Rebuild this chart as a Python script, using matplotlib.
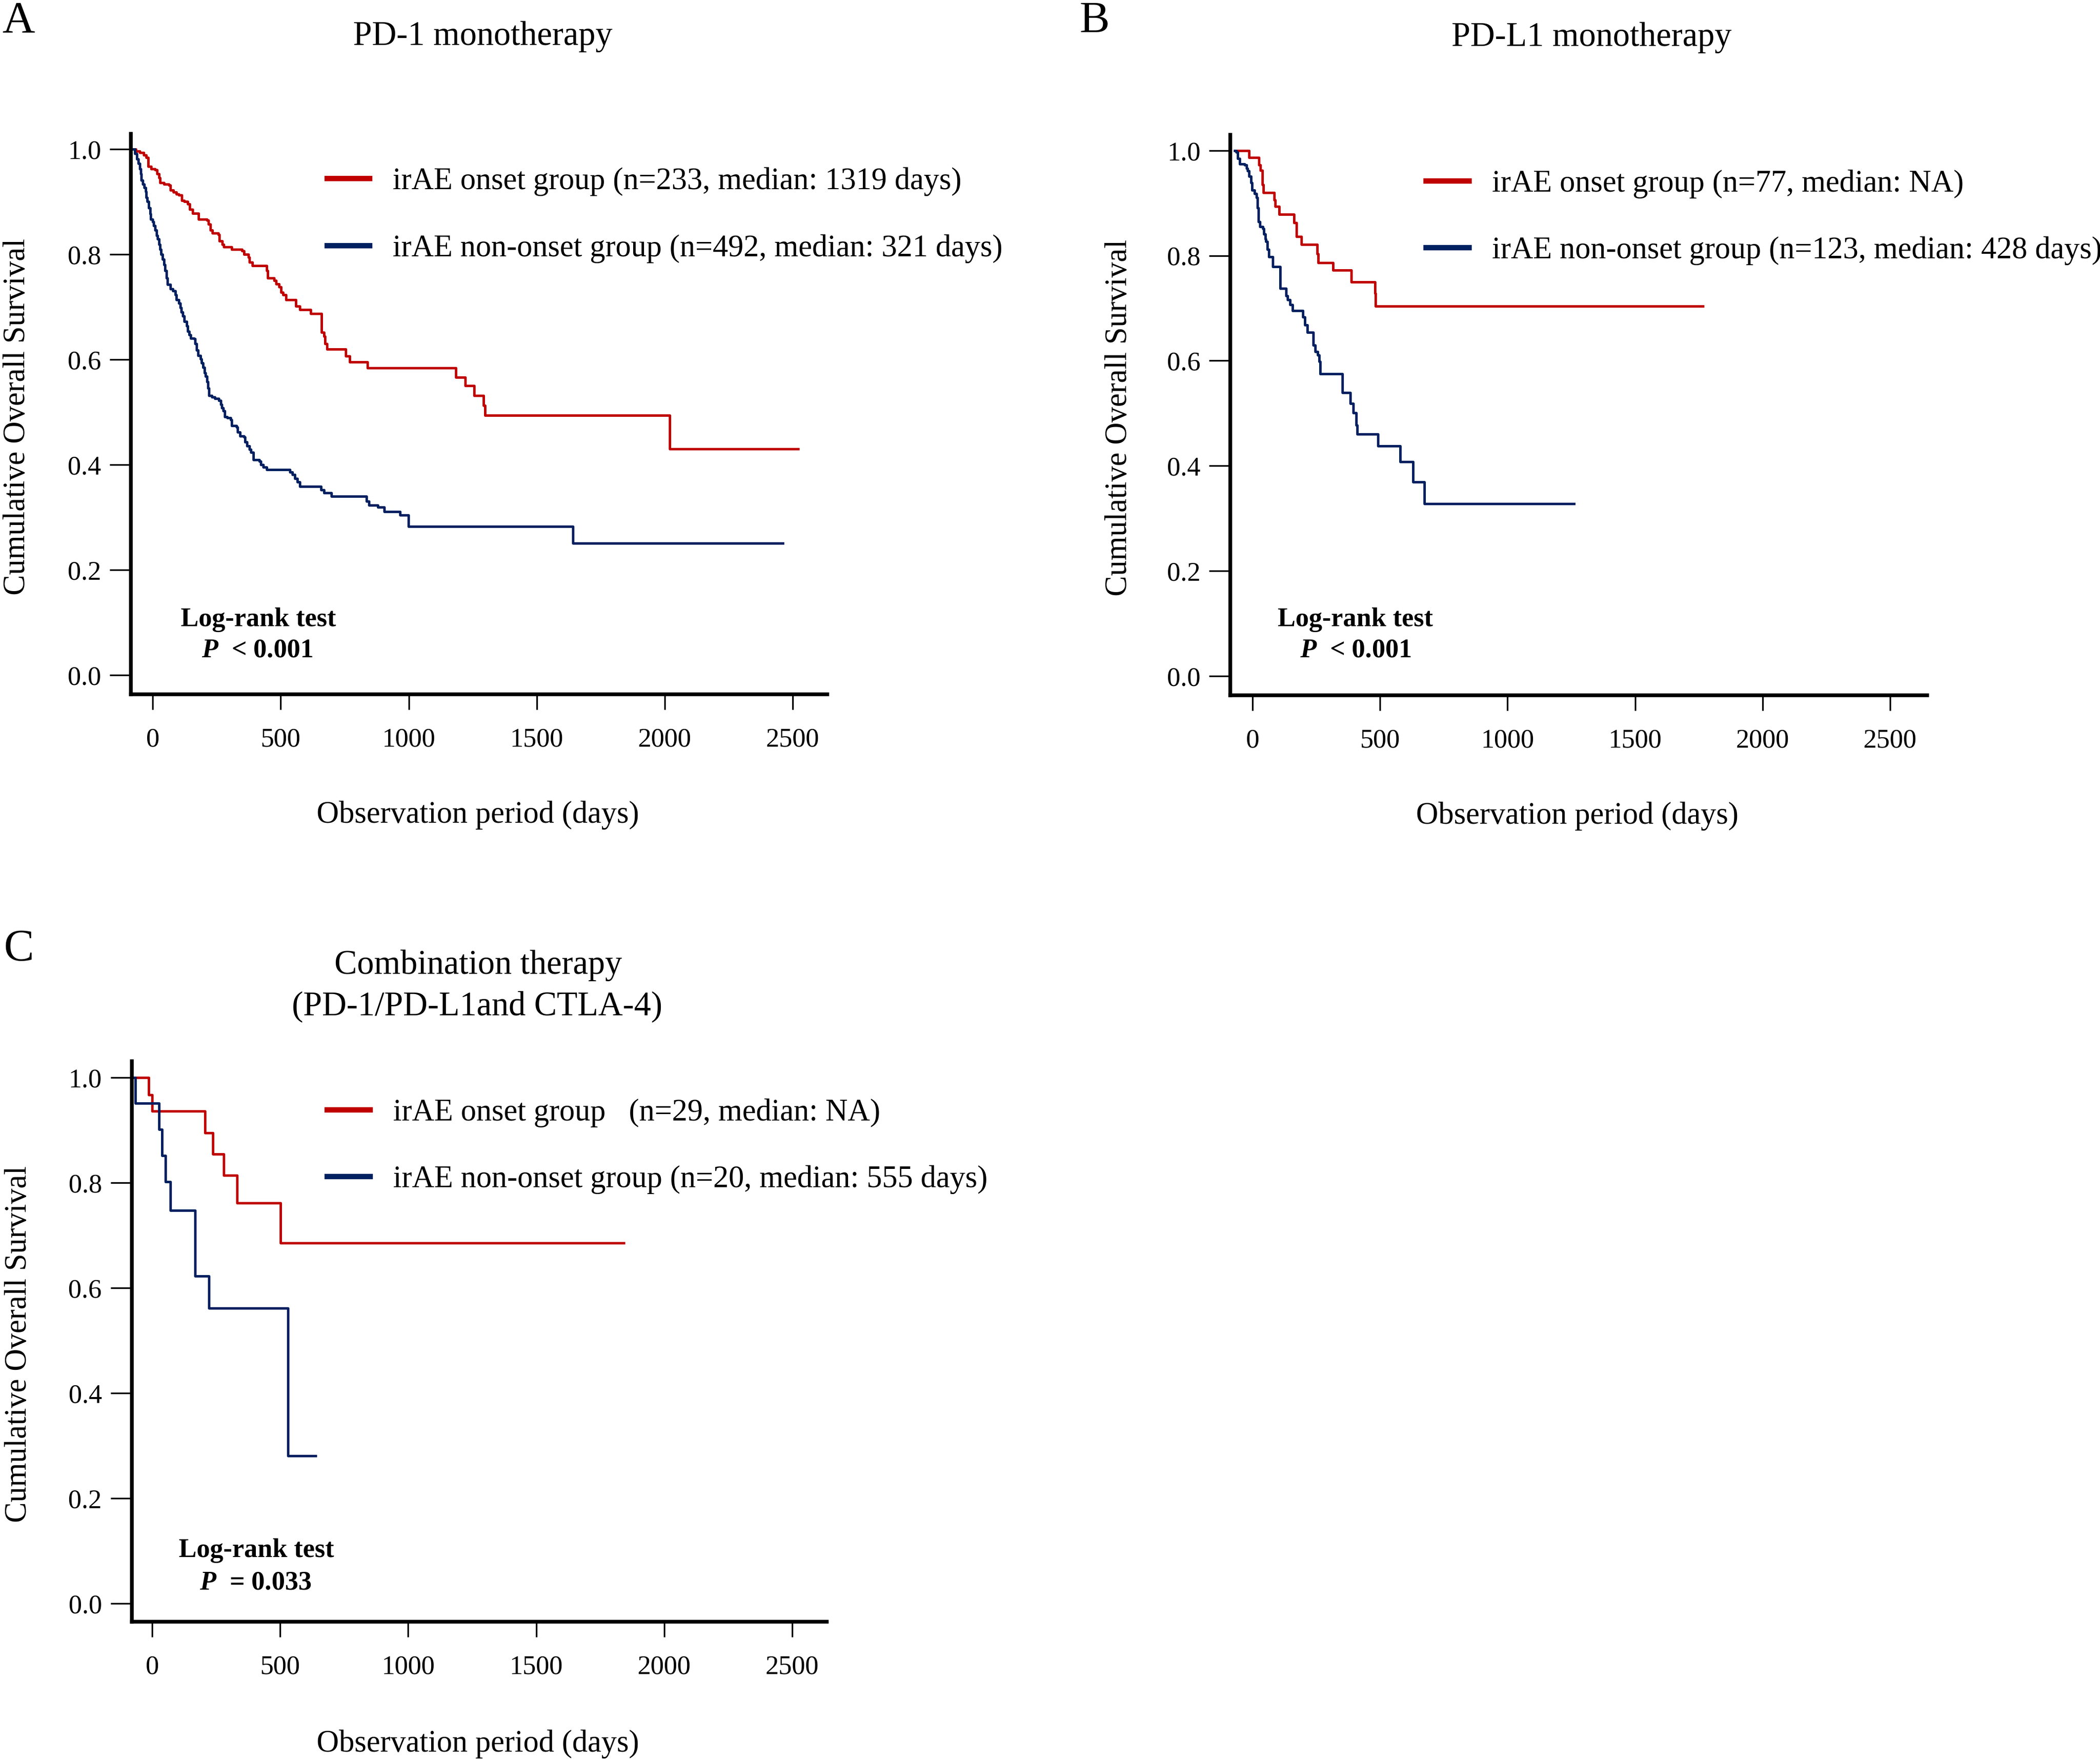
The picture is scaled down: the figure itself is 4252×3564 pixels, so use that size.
import matplotlib
matplotlib.use("Agg")
import matplotlib.pyplot as plt
from matplotlib.lines import Line2D

plt.rcParams['font.family'] = ['Liberation Serif', 'DejaVu Serif']
plt.rcParams['mathtext.fontset'] = 'custom'
plt.rcParams['mathtext.it'] = 'Liberation Serif:italic:bold'
plt.rcParams['mathtext.rm'] = 'Liberation Serif:bold'

RED = '#c00000'
BLUE = '#002060'

# ---- data (days, cumulative survival) ----
# panel A : PD-1 monotherapy
a_on_t = [-85, -67, -50, -35, -26, -18, -6, 9, 16, 24,
          28, 43, 63, 68, 81, 92, 102, 114, 122, 137,
          144, 156, 179, 211, 218, 225, 232, 255, 260, 272,
          278, 309, 348, 356, 373, 378, 390, 445, 449, 474,
          481, 493, 501, 508, 521, 558, 575, 617, 660, 668,
          673, 681, 754, 769, 838, 1185, 1221, 1256, 1293, 1299,
          2019, 2521]
a_on_s = [1.0, 0.997, 0.994, 0.989, 0.984, 0.968, 0.963, 0.961, 0.953, 0.946,
          0.937, 0.934, 0.932, 0.922, 0.919, 0.915, 0.913, 0.903, 0.901, 0.896,
          0.886, 0.878, 0.867, 0.865, 0.858, 0.846, 0.841, 0.838, 0.826, 0.819,
          0.814, 0.810, 0.807, 0.800, 0.795, 0.785, 0.779, 0.769, 0.755, 0.751,
          0.744, 0.738, 0.728, 0.723, 0.714, 0.702, 0.695, 0.688, 0.652, 0.644,
          0.630, 0.620, 0.607, 0.596, 0.584, 0.566, 0.550, 0.532, 0.513, 0.494,
          0.430, 0.430]

a_non_t = [-85, -70, -63, -57, -50, -47, -45, -40, -33, -28,
           -26, -21, -16, -11, -8, -1, 4, 9, 14, 19,
           24, 28, 33, 38, 43, 48, 53, 58, 68, 78,
           88, 92, 102, 107, 112, 117, 122, 132, 137, 142,
           147, 161, 166, 171, 176, 186, 191, 196, 201, 206,
           211, 215, 220, 230, 242, 258, 265, 270, 275, 281,
           291, 304, 309, 327, 331, 341, 356, 360, 368, 378,
           383, 393, 417, 422, 432, 445, 535, 545, 555, 565,
           575, 658, 668, 698, 835, 845, 880, 904, 966, 998,
           1642, 2462]
a_non_s = [1.0, 0.992, 0.982, 0.973, 0.963, 0.953, 0.941, 0.934, 0.927, 0.920,
           0.908, 0.901, 0.889, 0.877, 0.867, 0.862, 0.855, 0.846, 0.836, 0.829,
           0.819, 0.810, 0.800, 0.791, 0.781, 0.769, 0.755, 0.743, 0.735, 0.731,
           0.723, 0.714, 0.707, 0.699, 0.690, 0.683, 0.673, 0.664, 0.654, 0.647,
           0.641, 0.640, 0.630, 0.618, 0.608, 0.601, 0.594, 0.585, 0.575, 0.568,
           0.558, 0.546, 0.532, 0.529, 0.526, 0.522, 0.515, 0.508, 0.503, 0.491,
           0.489, 0.486, 0.474, 0.472, 0.462, 0.455, 0.453, 0.443, 0.436, 0.429,
           0.424, 0.410, 0.407, 0.400, 0.395, 0.391, 0.386, 0.381, 0.374, 0.367,
           0.359, 0.352, 0.347, 0.340, 0.331, 0.323, 0.319, 0.311, 0.304, 0.283,
           0.251, 0.251]

# panel B : PD-L1 monotherapy
b_on_t = [-70, -14, 25, 30, 38, 42, 84, 89, 104, 163,
          171, 192, 254, 258, 315, 386, 479, 482, 1767]
b_on_s = [1.0, 0.987, 0.973, 0.962, 0.935, 0.920, 0.906, 0.894, 0.879, 0.863,
          0.836, 0.821, 0.803, 0.787, 0.772, 0.750, 0.728, 0.704, 0.704]

b_non_t = [-70, -64, -59, -51, -31, -24, -19, -15, -7, -2,
           8, 15, 18, 23, 28, 40, 45, 49, 52, 57,
           64, 79, 108, 131, 138, 146, 156, 197, 205, 215,
           238, 246, 256, 261, 264, 352, 384, 394, 407, 411,
           492, 578, 630, 674, 1260]
b_non_s = [1.0, 0.997, 0.985, 0.975, 0.973, 0.966, 0.961, 0.951, 0.939, 0.925,
           0.918, 0.911, 0.891, 0.865, 0.855, 0.851, 0.841, 0.832, 0.827, 0.812,
           0.798, 0.779, 0.738, 0.724, 0.716, 0.707, 0.695, 0.683, 0.668, 0.654,
           0.630, 0.617, 0.611, 0.599, 0.575, 0.539, 0.519, 0.501, 0.477, 0.460,
           0.438, 0.408, 0.369, 0.328, 0.328]

# panel C : combination therapy
c_on_t = [-78, -13, 0, 207, 238, 279, 331, 501, 1842]
c_on_s = [1.0, 0.968, 0.937, 0.895, 0.855, 0.814, 0.762, 0.686, 0.686]

c_non_t = [-78, -65, 26, 39, 52, 72, 168, 222, 530, 638]
c_non_s = [1.0, 0.952, 0.902, 0.852, 0.802, 0.748, 0.623, 0.562, 0.281, 0.281]

x_ticks = [0, 500, 1000, 1500, 2000, 2500]
y_ticks = [0.0, 0.2, 0.4, 0.6, 0.8, 1.0]

panels = [
    dict(letter='A', title='PD-1 monotherapy',
         rect=[0.0624, 0.6054, 0.3316, 0.3187], xlim=(-85, 2636), ylim=(-0.037, 1.03),
         on=(a_on_t, a_on_s), non=(a_non_t, a_non_s),
         lab_on='irAE onset group (n=233, median: 1319 days)',
         lab_non='irAE non-onset group (n=492, median: 321 days)',
         p_text=r'$P$  < 0.001', lr_x=(413, 407), lr_y=(0.093, 0.034),
         leg_y=0.940, ylab_x=-0.143, xlab_y=-0.229),
    dict(letter='B', title='PD-L1 monotherapy',
         rect=[0.5858, 0.6049, 0.3318, 0.3185], xlim=(-88, 2645), ylim=(-0.037, 1.03),
         on=(b_on_t, b_on_s), non=(b_non_t, b_non_s),
         lab_on='irAE onset group (n=77, median: NA)',
         lab_non='irAE non-onset group (n=123, median: 428 days)',
         p_text=r'$P$  < 0.001', lr_x=(403, 403), lr_y=(0.095, 0.036),
         leg_y=0.938, ylab_x=-0.139, xlab_y=-0.229),
    dict(letter='C', title='Combination therapy\n(PD-1/PD-L1and CTLA-4)',
         rect=[0.0627, 0.0786, 0.3310, 0.3183], xlim=(-80, 2635), ylim=(-0.0345, 1.031),
         on=(c_on_t, c_on_s), non=(c_non_t, c_non_s),
         lab_on='irAE onset group   (n=29, median: NA)',
         lab_non='irAE non-onset group (n=20, median: 555 days)',
         p_text=r'$P$  = 0.033', lr_x=(407, 404), lr_y=(0.088, 0.027),
         leg_y=0.934, ylab_x=-0.142, xlab_y=-0.232),
]

fig = plt.figure(figsize=(4252 / 300, 3564 / 300), dpi=300)

for p in panels:
    ax = fig.add_axes(p['rect'])
    ax.step(p['on'][0], p['on'][1], where='post', color=RED, lw=1.2)
    ax.step(p['non'][0], p['non'][1], where='post', color=BLUE, lw=1.2)

    ax.set_xlim(*p['xlim'])
    ax.set_ylim(*p['ylim'])
    ax.set_xticks(x_ticks)
    ax.set_yticks(y_ticks)
    ax.set_yticklabels(['%.1f' % v for v in y_ticks])
    for side in ('top', 'right'):
        ax.spines[side].set_visible(False)
    for side in ('left', 'bottom'):
        ax.spines[side].set_linewidth(1.8)
    ax.tick_params(axis='x', direction='out', length=7.5, width=0.8, pad=8.6, labelsize=13)
    ax.tick_params(axis='y', direction='out', length=10.3, width=0.8, pad=4.2, labelsize=13)

    ax.set_xlabel('Observation period (days)', fontsize=15)
    ax.xaxis.set_label_coords(0.498, p['xlab_y'])
    ax.xaxis.label.set_va('baseline')
    ax.set_ylabel('Cumulative Overall Survival', fontsize=15)
    ax.yaxis.set_label_coords(p['ylab_x'], 0.495)

    handles = [Line2D([], [], color=RED, lw=2.6), Line2D([], [], color=BLUE, lw=2.6)]
    ax.legend(handles, [p['lab_on'], p['lab_non']], loc='upper left',
              bbox_to_anchor=(0.281, p['leg_y']), frameon=False, fontsize=15,
              borderpad=0, borderaxespad=0, handlelength=1.39, handletextpad=0.75,
              labelspacing=1.23)

    ax.text(p['lr_x'][0], p['lr_y'][0], 'Log-rank test', ha='center', va='baseline',
            fontsize=13, fontweight='bold')
    ax.text(p['lr_x'][1], p['lr_y'][1], p['p_text'], ha='center', va='baseline',
            fontsize=13, fontweight='bold')

# titles and panel letters
fig.text(0.230, 0.9745, panels[0]['title'], ha='center', va='baseline', fontsize=16.5)
fig.text(0.7578, 0.974, panels[1]['title'], ha='center', va='baseline', fontsize=16.5)
fig.text(0.2278, 0.4468, 'Combination therapy', ha='center', va='baseline', fontsize=16.5)
fig.text(0.2272, 0.4234, '(PD-1/PD-L1and CTLA-4)', ha='center', va='baseline', fontsize=16.5)

fig.text(0.001, 0.9815, 'A', ha='left', va='baseline', fontsize=22)
fig.text(0.514, 0.9815, 'B', ha='left', va='baseline', fontsize=22)
fig.text(0.0017, 0.4543, 'C', ha='left', va='baseline', fontsize=22)

fig.savefig('out.png', dpi=300)
